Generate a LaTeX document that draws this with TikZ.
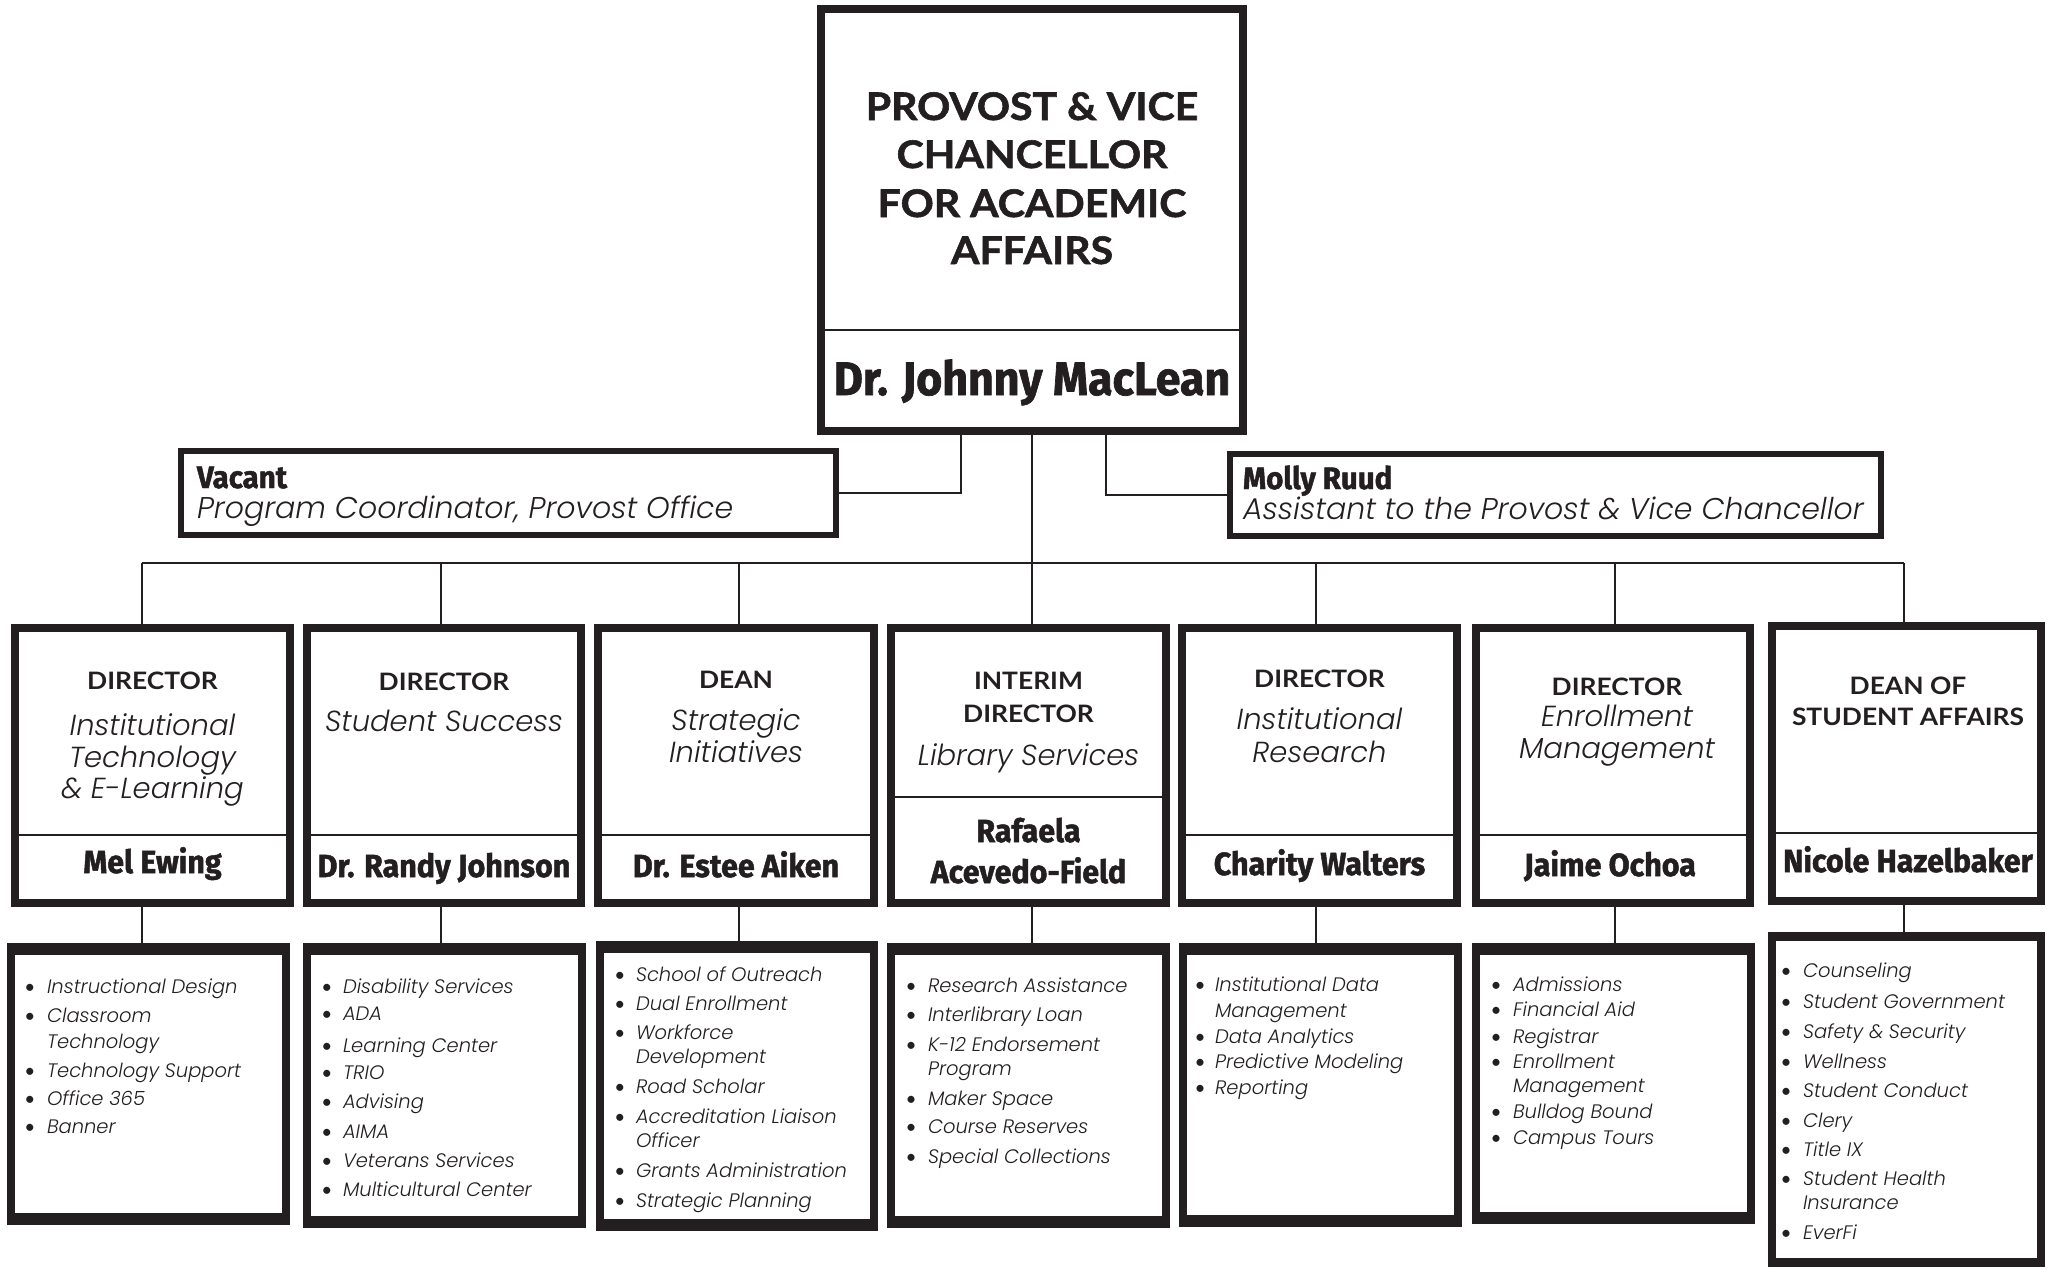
\documentclass[tikz,border=0pt]{standalone}
\usepackage{fontspec}
\setmainfont{Lato}
\newfontfamily\namefont[FakeStretch=0.95,FakeBold=1.5]{Fira Sans}
\newfontfamily\titlefont[FakeStretch=1.08,FakeBold=1.5]{Lato}
\newfontfamily\capsfont[FakeStretch=1.1]{Lato}
\newfontfamily\itfont{Poppins Light Italic}
\usetikzlibrary{calc}
\definecolor{ink}{HTML}{231F20}
\newcommand\bitem[4]{\node[bul] at (#1,#3) {\textbullet}; \node[lst] at (#2,#3) {#4};}
\newcommand\citem[3]{\node[lst] at (#1,#2) {#3};}
\begin{document}
\begin{tikzpicture}[x=1pt,y=-1pt,
  box/.style={rectangle, draw=ink, fill=white, line width=8pt, inner sep=0pt, outer sep=0pt},
  sidebox/.style={box, line width=6pt},
  listbox/.style={rectangle, fill=ink, inner sep=0pt, outer sep=0pt,
    path picture={\fill[white] ([xshift=8pt,yshift=-12pt]path picture bounding box.north west) rectangle ([xshift=-8pt,yshift=12pt]path picture bounding box.south east);}},
  listboxb/.style={rectangle, fill=ink, inner sep=0pt, outer sep=0pt,
    path picture={\fill[white] ([xshift=8pt,yshift=-9pt]path picture bounding box.north west) rectangle ([xshift=-8pt,yshift=9pt]path picture bounding box.south east);}},
  conn/.style={draw=ink, line width=2.5pt},
  divline/.style={draw=ink, line width=2.5pt},
  txt/.style={inner sep=0pt, outer sep=0pt, text=ink},
  bigttl/.style={txt, anchor=base, font=\titlefont\bfseries\fontsize{38}{46}\selectfont},
  bigname/.style={txt, anchor=base, font=\namefont\bfseries\fontsize{47}{50}\selectfont},
  sname/.style={txt, anchor=base west, font=\namefont\bfseries\fontsize{31}{34}\selectfont},
  ssub/.style={txt, anchor=base west, font=\itfont\fontsize{30}{34}\selectfont},
  ttl/.style={txt, anchor=base, font=\capsfont\bfseries\fontsize{24}{28}\selectfont},
  sub/.style={txt, anchor=base, font=\itfont\fontsize{29}{31}\selectfont},
  nm/.style={txt, anchor=base, font=\namefont\bfseries\fontsize{32}{36}\selectfont},
  lst/.style={txt, anchor=base west, font=\itfont\fontsize{19.5}{22}\selectfont},
  bul/.style={txt, anchor=base, font=\fontsize{19}{22}\selectfont}
]
\fill[white] (0,0) rectangle (2047,1269);
\useasboundingbox (0,0) rectangle (2047,1269);

% ---------- top box ----------
\node[box, minimum width=422pt, minimum height=422pt] (top) at (1032,220) {};
\draw[divline] (top.west |- 0,330) -- (top.east |- 0,330);
\node[bigttl] (t1) at (1032,120) {PROVOST \& VICE};
\node[bigttl] (t2) at (1032,168) {CHANCELLOR};
\node[bigttl] (t3) at (1032,217) {FOR ACADEMIC};
\node[bigttl] (t4) at (1032,264) {AFFAIRS};
\node[bigname] (tn) at (1032,395) {Dr. Johnny MacLean};

% ---------- side boxes ----------
\node[sidebox, minimum width=655pt, minimum height=84pt] (vac) at (508.5,493) {};
\node[sname] (vacn) at (197,488) {Vacant};
\node[ssub] (vact) at (197,518) {Program Coordinator, Provost Office};
\node[sidebox, minimum width=651pt, minimum height=82pt] (mol) at (1555.5,495) {};
\node[sname] (moln) at (1243,489) {Molly Ruud};
\node[ssub] (molt) at (1243,519) {Assistant to the Provost \& Vice Chancellor};

% ---------- director boxes ----------
\node[box, minimum width=275pt, minimum height=275pt] (d1) at (152.5,765.5) {};
\node[box, minimum width=274pt, minimum height=275pt] (d2) at (444,765.5) {};
\node[box, minimum width=276pt, minimum height=275pt] (d3) at (736,765.5) {};
\node[box, minimum width=275pt, minimum height=275pt] (d4) at (1028.5,765.5) {};
\node[box, minimum width=275pt, minimum height=275pt] (d5) at (1319.5,765.5) {};
\node[box, minimum width=274pt, minimum height=275pt] (d6) at (1613,765.5) {};
\node[box, minimum width=269pt, minimum height=275pt] (d7) at (1906.5,763.5) {};
\draw[divline] (d1.west |- 0,835) -- (d1.east |- 0,835);
\draw[divline] (d2.west |- 0,835) -- (d2.east |- 0,835);
\draw[divline] (d3.west |- 0,835) -- (d3.east |- 0,835);
\draw[divline] (d4.west |- 0,797) -- (d4.east |- 0,797);
\draw[divline] (d5.west |- 0,835) -- (d5.east |- 0,835);
\draw[divline] (d6.west |- 0,835) -- (d6.east |- 0,835);
\draw[divline] (d7.west |- 0,833) -- (d7.east |- 0,833);

\node[ttl] at (152.5,689) {DIRECTOR};
\node[sub] at (152.5,735) {Institutional};
\node[sub] at (152.5,767) {Technology};
\node[sub] at (152.5,798) {\& E-Learning};
\node[nm] at (152.5,873) {Mel Ewing};

\node[ttl] at (444,690) {DIRECTOR};
\node[sub] at (444,731) {Student Success};
\node[nm] at (444,877) {Dr. Randy Johnson};

\node[ttl] at (736,688) {DEAN};
\node[sub] at (736,730) {Strategic};
\node[sub] at (736,762) {Initiatives};
\node[nm] at (736,877) {Dr. Estee Aiken};

\node[ttl] at (1028.5,689) {INTERIM};
\node[ttl] at (1028.5,722) {DIRECTOR};
\node[sub] at (1028.5,765) {Library Services};
\node[nm] at (1028.5,842) {Rafaela};
\node[nm] at (1028.5,883) {Acevedo-Field};

\node[ttl] at (1319.5,687) {DIRECTOR};
\node[sub] at (1319.5,729) {Institutional};
\node[sub] at (1319.5,762) {Research};
\node[nm] at (1319.5,875) {Charity Walters};

\node[ttl] at (1617,695) {DIRECTOR};
\node[sub] at (1617,726) {Enrollment};
\node[sub] at (1617,758) {Management};
\node[nm] at (1610,876) {Jaime Ochoa};

\node[ttl] at (1908,694) {DEAN OF};
\node[ttl] at (1908,725) {STUDENT AFFAIRS};
\node[nm] at (1908,872) {Nicole Hazelbaker};

% ---------- list boxes ----------
\node[listbox, minimum width=283pt, minimum height=282pt] (l1) at (148.5,1084) {};
\node[listbox, minimum width=283pt, minimum height=285pt] (l2) at (444.5,1085.5) {};
\node[listbox, minimum width=282pt, minimum height=290pt] (l3) at (737,1086) {};
\node[listbox, minimum width=283pt, minimum height=285pt] (l4) at (1028.5,1085.5) {};
\node[listbox, minimum width=283pt, minimum height=284pt] (l5) at (1320.5,1085) {};
\node[listbox, minimum width=283pt, minimum height=281pt] (l6) at (1613.5,1083.5) {};
\node[listboxb, minimum width=277pt, minimum height=335pt] (l7) at (1906.5,1099.5) {};

\bitem{30}{47}{993}{Instructional Design}
\bitem{30}{47}{1022}{Classroom}
\citem{47}{1048}{Technology}
\bitem{30}{47}{1077}{Technology Support}
\bitem{30}{47}{1105}{Office 365}
\bitem{30}{47}{1133}{Banner}

\bitem{327}{343}{993}{Disability Services}
\bitem{327}{343}{1020}{ADA}
\bitem{327}{343}{1052}{Learning Center}
\bitem{327}{343}{1079}{TRIO}
\bitem{327}{343}{1108}{Advising}
\bitem{327}{343}{1138}{AIMA}
\bitem{327}{343}{1167}{Veterans Services}
\bitem{327}{343}{1196}{Multicultural Center}

\bitem{620}{636}{981}{School of Outreach}
\bitem{620}{636}{1010}{Dual Enrollment}
\bitem{620}{636}{1039}{Workforce}
\citem{636}{1063}{Development}
\bitem{620}{636}{1093}{Road Scholar}
\bitem{620}{636}{1123}{Accreditation Liaison}
\citem{636}{1147}{Officer}
\bitem{620}{636}{1177}{Grants Administration}
\bitem{620}{636}{1207}{Strategic Planning}

\bitem{911}{928}{992}{Research Assistance}
\bitem{911}{928}{1021}{Interlibrary Loan}
\bitem{911}{928}{1051}{K-12 Endorsement}
\citem{928}{1075}{Program}
\bitem{911}{928}{1105}{Maker Space}
\bitem{911}{928}{1133}{Course Reserves}
\bitem{911}{928}{1163}{Special Collections}

\bitem{1200}{1215}{991}{Institutional Data}
\citem{1215}{1017}{Management}
\bitem{1200}{1215}{1043}{Data Analytics}
\bitem{1200}{1215}{1068}{Predictive Modeling}
\bitem{1200}{1215}{1094}{Reporting}

\bitem{1496}{1513}{991}{Admissions}
\bitem{1496}{1513}{1016}{Financial Aid}
\bitem{1496}{1513}{1043}{Registrar}
\bitem{1496}{1513}{1068}{Enrollment}
\citem{1513}{1092}{Management}
\bitem{1496}{1513}{1118}{Bulldog Bound}
\bitem{1496}{1513}{1144}{Campus Tours}

\bitem{1786}{1803}{977}{Counseling}
\bitem{1786}{1803}{1008}{Student Government}
\bitem{1786}{1803}{1038}{Safety \& Security}
\bitem{1786}{1803}{1068}{Wellness}
\bitem{1786}{1803}{1097}{Student Conduct}
\bitem{1786}{1803}{1127}{Clery}
\bitem{1786}{1803}{1156}{Title IX}
\bitem{1786}{1803}{1185}{Student Health}
\citem{1803}{1209}{Insurance}
\bitem{1786}{1803}{1239}{EverFi}

% ---------- connectors ----------
\coordinate (bus) at (1032,563);
\coordinate (b1) at (142,563);
\coordinate (b2) at (441,563);
\coordinate (b3) at (739,563);
\coordinate (b4) at (1032,563);
\coordinate (b5) at (1316,563);
\coordinate (b6) at (1615,563);
\coordinate (b7) at (1904,563);
\draw[conn] (top.south -| 961,0) |- (vac.east);
\draw[conn] (top.south -| 1106,0) |- (mol.west);
\draw[conn] (top.south) -- (bus);
\draw[conn] (b1) -- (b7);
\foreach \i in {1,...,7} {
  \draw[conn] (b\i) -- (b\i |- d\i.north);
  \draw[conn] (b\i |- d\i.south) -- (b\i |- l\i.north);
}
\end{tikzpicture}
\end{document}
